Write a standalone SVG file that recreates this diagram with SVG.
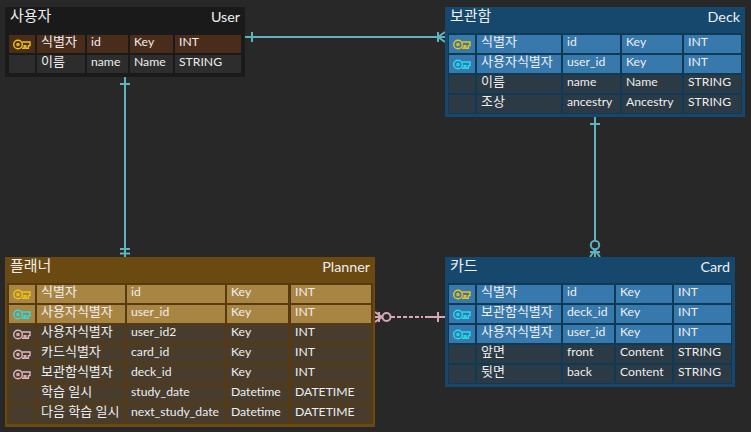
<svg xmlns="http://www.w3.org/2000/svg" width="751" height="432" viewBox="0 0 751 432">
<style>
text{font-family:Lato,"Noto Sans CJK KR",sans-serif;fill:#eee;font-size:12.2px}
text.c{font-size:13px}
text.h{font-size:15px}
text.hr{font-size:14.3px;text-anchor:end}
.line{fill:none;stroke:#5fb3bf;stroke-width:2}
.pink{fill:none;stroke:#d9a6b8;stroke-width:2}
.key{fill:none;stroke-width:1.4}
</style>
<defs>
<g id="key"><circle cx="5" cy="4.5" r="4.3"/><circle cx="5" cy="4.5" r="1.1"/><path d="M9.2 2H17V5.6H15.4V8.2H12.8V5.6H11.2V8.2H9"/></g>
</defs>
<rect width="751" height="432" fill="#282828"/>
<g id="connectors">
<path class="line" d="M245 37H445M252 32V42M445 32L438 37L445 42M438 32V42"/>
<path class="line" d="M125 77V257M120 84H130M120 249H130M120 253.5H130"/>
<path class="line" d="M595 117V257M590 124H600"/>
<circle cx="595" cy="245" r="4.2" fill="#282828" stroke="#5fb3bf" stroke-width="2"/>
<path class="line" d="M590 257L595 250L600 257M590 252H600"/>
<path class="pink" d="M391 317H423" stroke-dasharray="4 2"/>
<path class="pink" d="M425 317H445M438 312V322"/>
<path class="pink" d="M375 312L382 317L375 322M375 317H382M379 312V322"/>
<circle cx="386.5" cy="317" r="4" fill="#282828" stroke="#d9a6b8" stroke-width="2"/>
</g>
<g id="user">
<rect x="5" y="7" width="240" height="70" fill="#1a1a1a"/>
<text x="10" y="21" class="h">사용자</text><text x="240" y="22" class="hr">User</text>
<rect x="9" y="35" width="26" height="18" fill="#4a2c1a"/><rect x="37" y="35" width="48" height="18" fill="#4a2c1a"/><rect x="87" y="35" width="41" height="18" fill="#4a2c1a"/><rect x="130" y="35" width="43" height="18" fill="#4a2c1a"/><rect x="175" y="35" width="66" height="18" fill="#4a2c1a"/>
<rect x="9" y="55" width="26" height="18" fill="#2d2d2d"/><rect x="37" y="55" width="48" height="18" fill="#2d2d2d"/><rect x="87" y="55" width="41" height="18" fill="#2d2d2d"/><rect x="130" y="55" width="43" height="18" fill="#2d2d2d"/><rect x="175" y="55" width="66" height="18" fill="#2d2d2d"/>
<use href="#key" x="13" y="40" class="key" stroke="#f1c40f"/>
<text x="41" y="46" class="c">식별자</text><text x="91" y="46">id</text><text x="134" y="46">Key</text><text x="179" y="46">INT</text>
<text x="41" y="66" class="c">이름</text><text x="91" y="66">name</text><text x="134" y="66">Name</text><text x="179" y="66">STRING</text>
</g>
<g id="deck">
<rect x="445" y="7" width="300" height="110" fill="#16486e"/>
<rect x="448" y="33" width="294" height="81" fill="#0f3a55"/>
<text x="450" y="21" class="h">보관함</text><text x="740" y="22" class="hr">Deck</text>
<rect x="449" y="35" width="26" height="18" fill="#3778ad"/><rect x="477" y="35" width="84" height="18" fill="#3778ad"/><rect x="563" y="35" width="57" height="18" fill="#3778ad"/><rect x="622" y="35" width="60" height="18" fill="#3778ad"/><rect x="684" y="35" width="57" height="18" fill="#3778ad"/>
<rect x="449" y="55" width="26" height="18" fill="#3778ad"/><rect x="477" y="55" width="84" height="18" fill="#3778ad"/><rect x="563" y="55" width="57" height="18" fill="#3778ad"/><rect x="622" y="55" width="60" height="18" fill="#3778ad"/><rect x="684" y="55" width="57" height="18" fill="#3778ad"/>
<rect x="449" y="75" width="26" height="18" fill="#2b3a45"/><rect x="477" y="75" width="84" height="18" fill="#2b3a45"/><rect x="563" y="75" width="57" height="18" fill="#2b3a45"/><rect x="622" y="75" width="60" height="18" fill="#2b3a45"/><rect x="684" y="75" width="57" height="18" fill="#2b3a45"/>
<rect x="449" y="95" width="26" height="18" fill="#2b3a45"/><rect x="477" y="95" width="84" height="18" fill="#2b3a45"/><rect x="563" y="95" width="57" height="18" fill="#2b3a45"/><rect x="622" y="95" width="60" height="18" fill="#2b3a45"/><rect x="684" y="95" width="57" height="18" fill="#2b3a45"/>
<use href="#key" x="453" y="40" class="key" stroke="#f1c40f"/><use href="#key" x="453" y="60" class="key" stroke="#1fe0f0"/>
<text x="481" y="46" class="c">식별자</text><text x="567" y="46">id</text><text x="626" y="46">Key</text><text x="688" y="46">INT</text>
<text x="481" y="66" class="c">사용자식별자</text><text x="567" y="66">user_id</text><text x="626" y="66">Key</text><text x="688" y="66">INT</text>
<text x="481" y="86" class="c">이름</text><text x="567" y="86">name</text><text x="626" y="86">Name</text><text x="688" y="86">STRING</text>
<text x="481" y="106" class="c">조상</text><text x="567" y="106">ancestry</text><text x="626" y="106">Ancestry</text><text x="688" y="106">STRING</text>
</g>
<g id="planner">
<rect x="5" y="257" width="370" height="170" fill="#6b4a12"/>
<rect x="7" y="283" width="366" height="141" fill="#573a10"/>
<text x="10" y="271" class="h">플래너</text><text x="370" y="272" class="hr">Planner</text>
<rect x="9" y="285" width="26" height="18" fill="#a98543"/><rect x="37" y="285" width="88" height="18" fill="#a98543"/><rect x="127" y="285" width="98" height="18" fill="#a98543"/><rect x="227" y="285" width="61" height="18" fill="#a98543"/><rect x="291" y="285" width="80" height="18" fill="#a98543"/>
<rect x="9" y="305" width="26" height="18" fill="#a98543"/><rect x="37" y="305" width="88" height="18" fill="#a98543"/><rect x="127" y="305" width="98" height="18" fill="#a98543"/><rect x="227" y="305" width="61" height="18" fill="#a98543"/><rect x="291" y="305" width="80" height="18" fill="#a98543"/>
<rect x="9" y="325" width="26" height="18" fill="#483c2c"/><rect x="37" y="325" width="88" height="18" fill="#483c2c"/><rect x="127" y="325" width="98" height="18" fill="#483c2c"/><rect x="227" y="325" width="61" height="18" fill="#483c2c"/><rect x="291" y="325" width="80" height="18" fill="#483c2c"/>
<rect x="9" y="345" width="26" height="18" fill="#483c2c"/><rect x="37" y="345" width="88" height="18" fill="#483c2c"/><rect x="127" y="345" width="98" height="18" fill="#483c2c"/><rect x="227" y="345" width="61" height="18" fill="#483c2c"/><rect x="291" y="345" width="80" height="18" fill="#483c2c"/>
<rect x="9" y="365" width="26" height="18" fill="#483c2c"/><rect x="37" y="365" width="88" height="18" fill="#483c2c"/><rect x="127" y="365" width="98" height="18" fill="#483c2c"/><rect x="227" y="365" width="61" height="18" fill="#483c2c"/><rect x="291" y="365" width="80" height="18" fill="#483c2c"/>
<rect x="9" y="385" width="26" height="18" fill="#483c2c"/><rect x="37" y="385" width="88" height="18" fill="#483c2c"/><rect x="127" y="385" width="98" height="18" fill="#483c2c"/><rect x="227" y="385" width="61" height="18" fill="#483c2c"/><rect x="291" y="385" width="80" height="18" fill="#483c2c"/>
<rect x="9" y="405" width="26" height="18" fill="#483c2c"/><rect x="37" y="405" width="88" height="18" fill="#483c2c"/><rect x="127" y="405" width="98" height="18" fill="#483c2c"/><rect x="227" y="405" width="61" height="18" fill="#483c2c"/><rect x="291" y="405" width="80" height="18" fill="#483c2c"/>
<use href="#key" x="13" y="290" class="key" stroke="#f1c40f"/><use href="#key" x="13" y="310" class="key" stroke="#1fe0f0"/><use href="#key" x="13" y="330" class="key" stroke="#e8b4bc"/><use href="#key" x="13" y="350" class="key" stroke="#e8b4bc"/><use href="#key" x="13" y="370" class="key" stroke="#e8b4bc"/>
<text x="41" y="296" class="c">식별자</text><text x="131" y="296">id</text><text x="231" y="296">Key</text><text x="295" y="296">INT</text>
<text x="41" y="316" class="c">사용자식별자</text><text x="131" y="316">user_id</text><text x="231" y="316">Key</text><text x="295" y="316">INT</text>
<text x="41" y="336" class="c">사용자식별자</text><text x="131" y="336">user_id2</text><text x="231" y="336">Key</text><text x="295" y="336">INT</text>
<text x="41" y="356" class="c">카드식별자</text><text x="131" y="356">card_id</text><text x="231" y="356">Key</text><text x="295" y="356">INT</text>
<text x="41" y="376" class="c">보관함식별자</text><text x="131" y="376">deck_id</text><text x="231" y="376">Key</text><text x="295" y="376">INT</text>
<text x="41" y="396" class="c">학습 일시</text><text x="131" y="396">study_date</text><text x="231" y="396">Datetime</text><text x="295" y="396">DATETIME</text>
<text x="41" y="416" class="c">다음 학습 일시</text><text x="131" y="416">next_study_date</text><text x="231" y="416">Datetime</text><text x="295" y="416">DATETIME</text>
</g>
<g id="card">
<rect x="445" y="257" width="290" height="130" fill="#16486e"/>
<rect x="448" y="283" width="284" height="101" fill="#0f3a55"/>
<text x="450" y="271" class="h">카드</text><text x="730" y="272" class="hr">Card</text>
<rect x="449" y="285" width="26" height="18" fill="#3778ad"/><rect x="477" y="285" width="84" height="18" fill="#3778ad"/><rect x="563" y="285" width="51" height="18" fill="#3778ad"/><rect x="616" y="285" width="56" height="18" fill="#3778ad"/><rect x="674" y="285" width="57" height="18" fill="#3778ad"/>
<rect x="449" y="305" width="26" height="18" fill="#3778ad"/><rect x="477" y="305" width="84" height="18" fill="#3778ad"/><rect x="563" y="305" width="51" height="18" fill="#3778ad"/><rect x="616" y="305" width="56" height="18" fill="#3778ad"/><rect x="674" y="305" width="57" height="18" fill="#3778ad"/>
<rect x="449" y="325" width="26" height="18" fill="#3778ad"/><rect x="477" y="325" width="84" height="18" fill="#3778ad"/><rect x="563" y="325" width="51" height="18" fill="#3778ad"/><rect x="616" y="325" width="56" height="18" fill="#3778ad"/><rect x="674" y="325" width="57" height="18" fill="#3778ad"/>
<rect x="449" y="345" width="26" height="18" fill="#2b3a45"/><rect x="477" y="345" width="84" height="18" fill="#2b3a45"/><rect x="563" y="345" width="51" height="18" fill="#2b3a45"/><rect x="616" y="345" width="56" height="18" fill="#2b3a45"/><rect x="674" y="345" width="57" height="18" fill="#2b3a45"/>
<rect x="449" y="365" width="26" height="18" fill="#2b3a45"/><rect x="477" y="365" width="84" height="18" fill="#2b3a45"/><rect x="563" y="365" width="51" height="18" fill="#2b3a45"/><rect x="616" y="365" width="56" height="18" fill="#2b3a45"/><rect x="674" y="365" width="57" height="18" fill="#2b3a45"/>
<use href="#key" x="453" y="290" class="key" stroke="#f1c40f"/><use href="#key" x="453" y="310" class="key" stroke="#1fe0f0"/><use href="#key" x="453" y="330" class="key" stroke="#1fe0f0"/>
<text x="481" y="296" class="c">식별자</text><text x="567" y="296">id</text><text x="620" y="296">Key</text><text x="678" y="296">INT</text>
<text x="481" y="316" class="c">보관함식별자</text><text x="567" y="316">deck_id</text><text x="620" y="316">Key</text><text x="678" y="316">INT</text>
<text x="481" y="336" class="c">사용자식별자</text><text x="567" y="336">user_id</text><text x="620" y="336">Key</text><text x="678" y="336">INT</text>
<text x="481" y="356" class="c">앞면</text><text x="567" y="356">front</text><text x="620" y="356">Content</text><text x="678" y="356">STRING</text>
<text x="481" y="376" class="c">뒷면</text><text x="567" y="376">back</text><text x="620" y="376">Content</text><text x="678" y="376">STRING</text>
</g>
</svg>
